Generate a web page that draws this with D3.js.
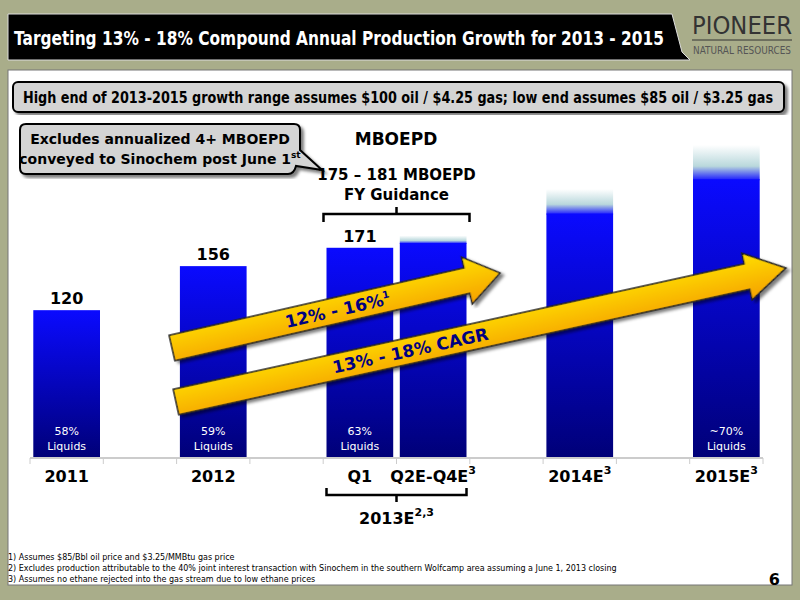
<!DOCTYPE html>
<html><head><meta charset="utf-8">
<script src="https://cdn.jsdelivr.net/npm/d3@7"></script>
<style>body{margin:0;background:#a9ad8a}text{font-family:"DejaVu Sans",sans-serif}</style>
</head><body><svg id="c" width="800" height="600"></svg>
<script>
const categories = ["2011", "g1", "2012", "g2", "Q1", "Q2E-Q4E", "g3", "2014E", "g4", "2015E"];
const solidValues = { "2011": 120, "2012": 156, "Q1": 171, "Q2E-Q4E": 175, "2014E": 199, "2015E": 227 };
const highValues = { "Q2E-Q4E": 181, "2014E": 219, "2015E": 255 };
const valueLabels = { "2011": "120", "2012": "156", "Q1": "171" };
const liquids = { "2011": "58%", "2012": "59%", "Q1": "63%", "2015E": "~70%" };
const tickLabels = { "2011": ["2011", ""], "2012": ["2012", ""], "Q1": ["Q1", ""], "Q2E-Q4E": ["Q2E-Q4E", "3"], "2014E": ["2014E", "3"], "2015E": ["2015E", "3"] };
const footnotes = [
  "1)   Assumes $85/Bbl oil price and $3.25/MMBtu gas price",
  "2)   Excludes production attributable to the 40% joint interest transaction with Sinochem in the southern Wolfcamp area assuming a June 1, 2013 closing",
  "3)   Assumes no ethane rejected into the gas stream due to low ethane prices"
];

const svg = d3.select("#c");
const defs = svg.append("defs");
const bg = defs.append("linearGradient").attr("id", "bar").attr("x1", 0).attr("y1", 0).attr("x2", 0).attr("y2", 1);
bg.append("stop").attr("offset", 0).attr("stop-color", "#0a0aff");
bg.append("stop").attr("offset", 1).attr("stop-color", "#000078");
const fg = defs.append("linearGradient").attr("id", "fade").attr("x1", 0).attr("y1", 0).attr("x2", 0).attr("y2", 1);
fg.append("stop").attr("offset", 0).attr("stop-color", "#ffffff");
fg.append("stop").attr("offset", 0.6).attr("stop-color", "#b9d8dc");
fg.append("stop").attr("offset", 1).attr("stop-color", "#1a1aff");
const ag = defs.append("linearGradient").attr("id", "arr").attr("x1", 0).attr("y1", 0).attr("x2", 0).attr("y2", 1);
ag.append("stop").attr("offset", 0).attr("stop-color", "#ffe000");
ag.append("stop").attr("offset", 1).attr("stop-color", "#f5a000");
const sh = defs.append("filter").attr("id", "sh");
sh.append("feDropShadow").attr("dx", 3).attr("dy", 3).attr("stdDeviation", 1.5).attr("flood-opacity", 0.5);

// title bar
svg.append("path").attr("d", "M8,14 H672 L682,52 L690,60 H8 Z").attr("fill", "#000").attr("stroke", "#ddd").attr("stroke-width", 1);
svg.append("text").attr("x", 14).attr("y", 45).attr("fill", "#fff").attr("font-size", 19).attr("font-weight", "bold")
  .attr("textLength", 650).attr("lengthAdjust", "spacingAndGlyphs").text("Targeting 13% - 18% Compound Annual Production Growth for 2013 - 2015");
svg.append("text").attr("x", 692).attr("y", 34).attr("fill", "#333").attr("font-size", 24).attr("font-family", "Liberation Serif")
  .attr("textLength", 100).attr("lengthAdjust", "spacingAndGlyphs").text("PIONEER");
svg.append("line").attr("x1", 692).attr("x2", 792).attr("y1", 40).attr("y2", 40).attr("stroke", "#333");
svg.append("text").attr("x", 693).attr("y", 54).attr("fill", "#555").attr("font-size", 10).attr("font-family", "Liberation Sans")
  .attr("textLength", 98).attr("lengthAdjust", "spacingAndGlyphs").text("NATURAL RESOURCES");

// panel
svg.append("rect").attr("x", 8).attr("y", 70).attr("width", 784).attr("height", 515).attr("fill", "#fff").attr("stroke", "#777");
svg.append("rect").attr("x", 13).attr("y", 82).attr("width", 771).attr("height", 30).attr("rx", 5).attr("fill", "#d4d4d4").attr("stroke", "#000").attr("stroke-width", 2).attr("filter", "url(#sh)");
svg.append("text").attr("x", 23).attr("y", 103).attr("font-size", 15).attr("font-weight", "bold")
  .attr("textLength", 750).attr("lengthAdjust", "spacingAndGlyphs").text("High end of 2013-2015 growth range assumes $100 oil / $4.25 gas; low end assumes $85 oil / $3.25 gas");

const x = d3.scaleBand().domain(categories).range([30, 763]).paddingInner(0.09).paddingOuter(0.045);
const y = d3.scaleLinear().domain([0, 255]).range([457, 145]);
const bars = categories.filter(c => solidValues[c] !== undefined);

svg.selectAll(".fade").data(bars.filter(c => highValues[c])).join("rect")
  .attr("x", c => x(c)).attr("width", x.bandwidth())
  .attr("y", c => y(highValues[c])).attr("height", c => y(solidValues[c]) - y(highValues[c]) + 1)
  .attr("fill", "url(#fade)");
svg.selectAll(".bar").data(bars).join("rect")
  .attr("x", c => x(c)).attr("width", x.bandwidth())
  .attr("y", c => y(solidValues[c])).attr("height", c => y(0) - y(solidValues[c]))
  .attr("fill", "url(#bar)");
svg.selectAll(".vl").data(Object.keys(valueLabels)).join("text")
  .attr("x", c => x(c) + x.bandwidth() / 2).attr("y", c => y(solidValues[c]) - 6)
  .attr("text-anchor", "middle").attr("font-size", 16).attr("font-weight", "bold").text(c => valueLabels[c]);
Object.keys(liquids).forEach(c => {
  const t = svg.append("text").attr("x", x(c) + x.bandwidth() / 2).attr("y", 435).attr("text-anchor", "middle").attr("fill", "#fff").attr("font-size", 11);
  t.append("tspan").attr("x", x(c) + x.bandwidth() / 2).text(liquids[c]);
  t.append("tspan").attr("x", x(c) + x.bandwidth() / 2).attr("dy", 15).text("Liquids");
});

// axis
svg.append("line").attr("x1", 30).attr("x2", 763).attr("y1", 458).attr("y2", 458).attr("stroke", "#ccc").attr("stroke-width", 2);
svg.selectAll(".tk").data(d3.range(11)).join("line")
  .attr("x1", i => 30 + i * (733 / 10)).attr("x2", i => 30 + i * (733 / 10))
  .attr("y1", 458).attr("y2", 464).attr("stroke", "#ccc");
Object.keys(tickLabels).forEach(c => {
  const t = svg.append("text").attr("x", x(c) + x.bandwidth() / 2).attr("y", 482).attr("text-anchor", "middle").attr("font-size", 16).attr("font-weight", "bold");
  t.append("tspan").text(tickLabels[c][0]);
  if (tickLabels[c][1]) t.append("tspan").attr("font-size", 11).attr("dy", -8).text(tickLabels[c][1]);
});

// brackets
const bx1 = x("Q1"), bx2 = x("Q2E-Q4E") + x.bandwidth(), bm = (bx1 + bx2) / 2;
svg.append("path").attr("d", `M${bx1},488 V495 H${bx2} V488 M${bm},495 V502`).attr("fill", "none").attr("stroke", "#000").attr("stroke-width", 2.5);
const t13 = svg.append("text").attr("x", bm).attr("y", 524).attr("text-anchor", "middle").attr("font-size", 16).attr("font-weight", "bold");
t13.append("tspan").text("2013E"); t13.append("tspan").attr("font-size", 11).attr("dy", -8).text("2,3");
svg.append("path").attr("d", `M${bx1 - 3},222 V214 H${bx2 + 3} V222 M${bm},214 V207`).attr("fill", "none").attr("stroke", "#000").attr("stroke-width", 2.5);
svg.append("text").attr("x", bm).attr("y", 180).attr("text-anchor", "middle").attr("font-size", 15).attr("font-weight", "bold").text("175 – 181 MBOEPD");
svg.append("text").attr("x", bm).attr("y", 200).attr("text-anchor", "middle").attr("font-size", 15).attr("font-weight", "bold").text("FY Guidance");
svg.append("text").attr("x", 396).attr("y", 145).attr("text-anchor", "middle").attr("font-size", 17).attr("font-weight", "bold").text("MBOEPD");

// callout
svg.append("path").attr("d", "M26,124 H294 Q300,124 300,130 V150 L322,170 L296,166 Q294,174 288,174 H26 Q20,174 20,168 V130 Q20,124 26,124 Z")
  .attr("fill", "#d4d4d4").attr("stroke", "#000").attr("stroke-width", 2).attr("filter", "url(#sh)");
svg.append("text").attr("x", 160).attr("y", 144).attr("text-anchor", "middle").attr("font-size", 14).attr("font-weight", "bold").text("Excludes annualized 4+ MBOEPD");
const cl = svg.append("text").attr("x", 160).attr("y", 164).attr("text-anchor", "middle").attr("font-size", 14).attr("font-weight", "bold");
cl.append("tspan").text("conveyed to Sinochem post June 1"); cl.append("tspan").attr("font-size", 9).attr("dy", -6).text("st");

// arrows
function arrow(x0, y0, x1, y1, w, hw, hl, label, sup, tx) {
  const a = Math.atan2(y1 - y0, x1 - x0) * 180 / Math.PI;
  const L = Math.hypot(x1 - x0, y1 - y0);
  const g = svg.append("g").attr("transform", `translate(${x0},${y0}) rotate(${a})`);
  g.append("path").attr("d", `M0,${-w / 2} H${L - hl} V${-hw} L${L},0 L${L - hl},${hw} V${w / 2} H0 Z`)
    .attr("fill", "url(#arr)").attr("stroke", "#222").attr("stroke-width", 1.5).attr("filter", "url(#sh)");
  const t = g.append("text").attr("x", tx).attr("y", 6).attr("text-anchor", "middle").attr("fill", "#000080").attr("font-size", 17).attr("font-weight", "bold");
  t.append("tspan").text(label);
  if (sup) t.append("tspan").attr("font-size", 10).attr("dy", -7).text(sup);
}
arrow(172, 348, 500, 273, 26, 24, 34, "12% - 16%", "1", 170);
arrow(176, 402, 786, 268, 26, 24, 40, "13% - 18% CAGR", "", 240);

// footnotes
svg.selectAll(".fn").data(footnotes).join("text")
  .attr("x", 8).attr("y", (d, i) => 560 + i * 11).attr("font-size", 8).attr("font-family", "Liberation Sans Narrow").text(d => d);
svg.append("text").attr("x", 780).attr("y", 585).attr("text-anchor", "end").attr("font-size", 16).attr("font-weight", "bold").text("6");
</script></body></html>
